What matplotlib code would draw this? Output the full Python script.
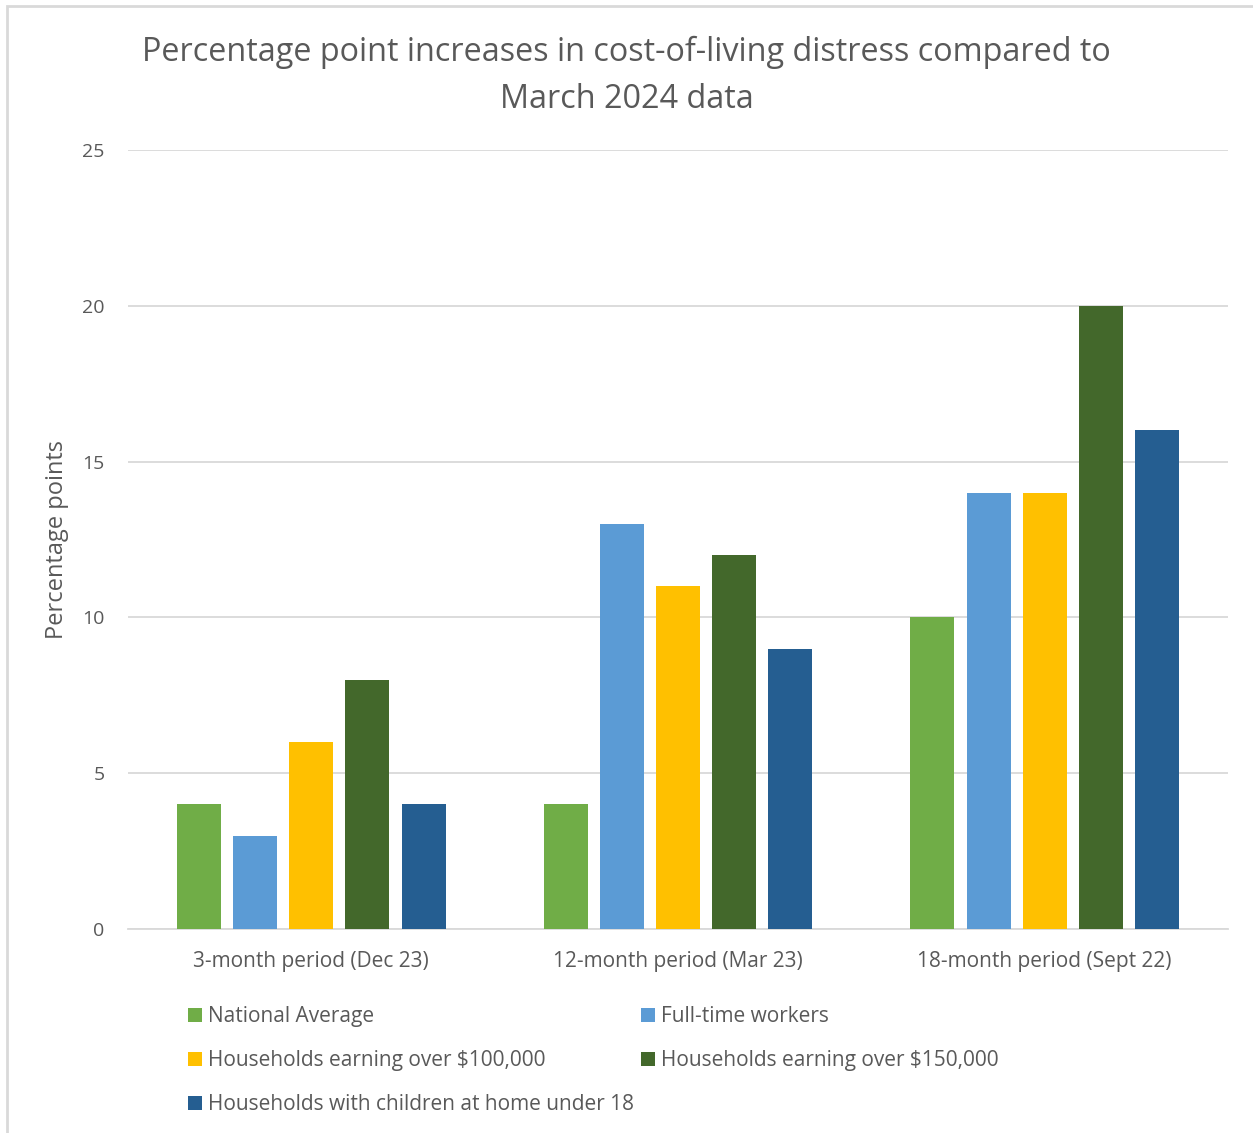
import matplotlib
matplotlib.use("Agg")
import matplotlib.pyplot as plt
from matplotlib.patches import Rectangle
import numpy as np

plt.rcParams['font.family'] = ['Open Sans', 'DejaVu Sans']

# data
periods = ["3-month period (Dec 23)", "12-month period (Mar 23)", "18-month period (Sept 22)"]
series_names = ["National Average", "Full-time workers", "Households earning over $100,000",
                "Households earning over $150,000", "Households with children at home under 18"]
national_avg = [4, 4, 10]
full_time = [3, 13, 14]
over_100k = [6, 11, 14]
over_150k = [8, 12, 20]
with_children = [4, 9, 16]
colors = ["#70AD47", "#5B9BD5", "#FFC000", "#43682B", "#255E91"]

values = [national_avg, full_time, over_100k, over_150k, with_children]

fig = plt.figure(figsize=(12.53, 11.33), dpi=100)
ax = fig.add_axes([128/1253, 1 - 929/1133, 1100/1253, 779/1133])

# outer frame of the chart object
fig.patches.append(Rectangle((7/1253, -0.05), 1.1, 1 - 6/1133 + 0.05, transform=fig.transFigure,
                             fill=False, edgecolor="#D9D9D9", linewidth=2))

x = np.arange(len(periods))
width = 0.12
step = 0.153
handles = []
for i, (name, vals) in enumerate(zip(series_names, values)):
    b = ax.bar(x + (i - 2) * step, vals, width=width, color=colors[i], label=name, zorder=3)
    handles.append(b)

ax.set_xlim(-0.5, 2.5)
ax.set_ylim(0, 25)
ax.set_yticks([0, 5, 10, 15, 20, 25])
ax.set_xticks(x)
ax.set_xticklabels(periods)
ax.grid(axis="y", color="#D9D9D9", linewidth=1.3, zorder=0)
for s in ["top", "right", "left"]:
    ax.spines[s].set_visible(False)
ax.spines["bottom"].set_color("#D9D9D9")
ax.spines["bottom"].set_linewidth(1.3)
ax.tick_params(length=0, colors="#595959", labelsize=14)
ax.tick_params(axis="y", pad=17)
ax.tick_params(axis="x", pad=16, labelsize=15)
ax.set_ylabel("Percentage points", fontsize=17, color="#595959", labelpad=9)

fig.suptitle("Percentage point increases in cost-of-living distress compared to\nMarch 2024 data",
             y=0.968, fontsize=23.3, color="#595959", linespacing=1.55)

# row-major order like the original legend
order = [0, 2, 4, 1, 3]
leg = fig.legend([handles[k] for k in order], [series_names[k] for k in order],
                 ncol=2, loc="upper left", bbox_to_anchor=(180/1253, 1 - 998/1133),
                 frameon=False, fontsize=15, labelcolor="#595959",
                 handlelength=0.65, handleheight=0.65, handletextpad=0.3,
                 columnspacing=0.35, labelspacing=1.1, borderaxespad=0)

fig.savefig("out.png", dpi=100)
